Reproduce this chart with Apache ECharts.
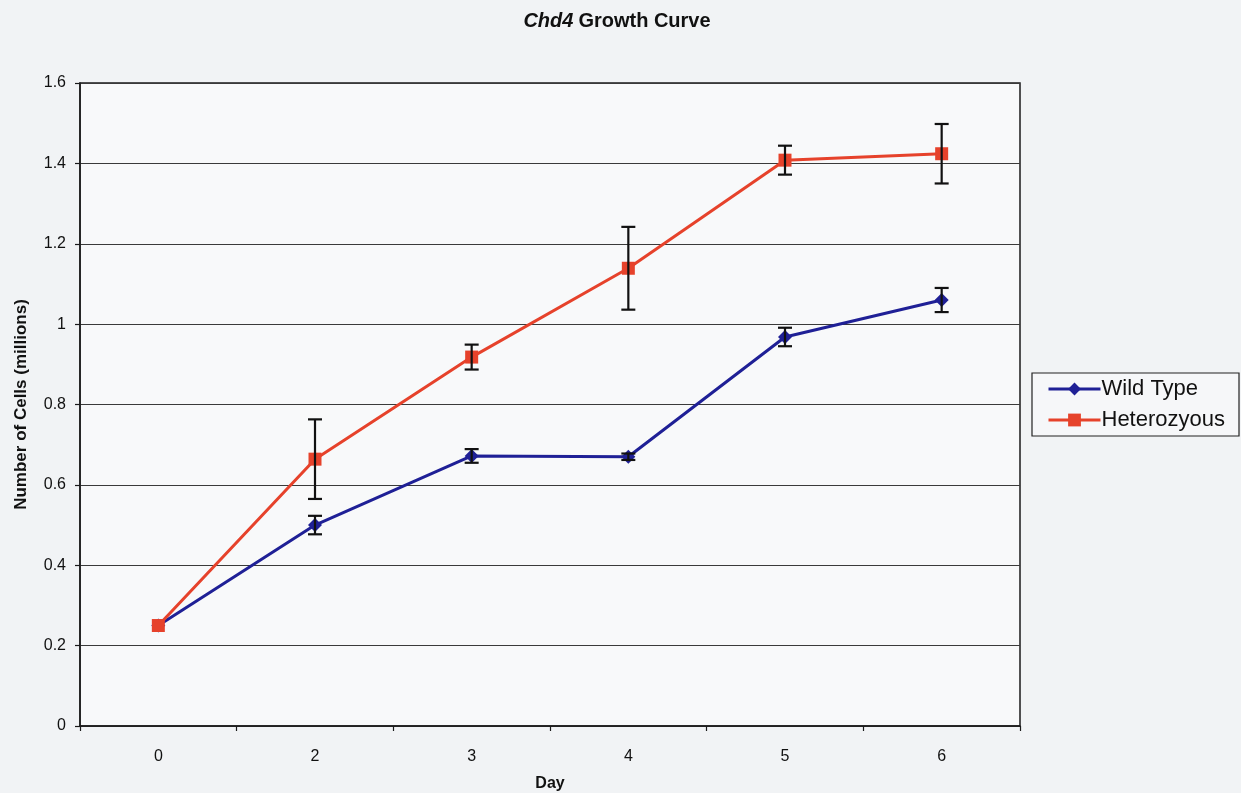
<!DOCTYPE html>
<html>
<head>
<meta charset="utf-8">
<title>Chd4 Growth Curve</title>
<script src="https://cdn.jsdelivr.net/npm/echarts@6/dist/echarts.min.js"></script>
<style>
  html, body { margin: 0; padding: 0; background: #f1f3f5; }
  #chart { width: 1241px; height: 793px; }
</style>
</head>
<body>
<div id="chart"></div>
<script>
// Days sampled
const days = ['0', '2', '3', '4', '5', '6'];

// Mean cell counts (millions) and error half-widths
const wildTypeMean = [0.25, 0.50, 0.672, 0.670, 0.968, 1.06];
const wildTypeErr  = [0.0, 0.023, 0.017, 0.008, 0.023, 0.030];
const hetMean      = [0.25, 0.664, 0.918, 1.139, 1.408, 1.424];
const hetErr       = [0.0, 0.099, 0.031, 0.103, 0.036, 0.074];

const yTicks = [0, 0.2, 0.4, 0.6, 0.8, 1, 1.2, 1.4, 1.6];

const FONT = 'Liberation Sans, Arial, sans-serif';

const chart = echarts.init(document.getElementById('chart'));

// Draws a vertical whisker with caps for each point
function errorBarSeries(means, errs, name) {
  return {
    type: 'custom',
    name: name + ' error',
    z: 5,
    data: means.map((m, i) => [i, m - errs[i], m + errs[i]]),
    renderItem: function (params, api) {
      const lo = api.coord([api.value(0), api.value(1)]);
      const hi = api.coord([api.value(0), api.value(2)]);
      if (Math.abs(hi[1] - lo[1]) < 1) return null;
      const cap = 7;
      const style = { stroke: '#111', lineWidth: 2.2 };
      return {
        type: 'group',
        children: [
          { type: 'line', shape: { x1: lo[0], y1: lo[1], x2: hi[0], y2: hi[1] }, style: style },
          { type: 'line', shape: { x1: lo[0] - cap, y1: lo[1], x2: lo[0] + cap, y2: lo[1] }, style: style },
          { type: 'line', shape: { x1: hi[0] - cap, y1: hi[1], x2: hi[0] + cap, y2: hi[1] }, style: style }
        ]
      };
    },
    silent: true,
    tooltip: { show: false }
  };
}

const option = {
  backgroundColor: '#f1f3f5',
  animation: false,
  title: {
    text: '{i|Chd4} {b|Growth Curve}',
    left: 612,
    textAlign: 'center',
    top: 6,
    textStyle: {
      rich: {
        i: { fontFamily: FONT, fontSize: 20, fontWeight: 'bold', fontStyle: 'italic', color: '#111' },
        b: { fontFamily: FONT, fontSize: 20, fontWeight: 'bold', color: '#111' }
      }
    }
  },
  legend: {
    orient: 'vertical',
    left: 1032,
    top: 373,
    data: ['Wild Type', 'Heterozyous'],
    itemWidth: 52,
    itemHeight: 16,
    itemGap: 9,
    padding: [5, 14, 5, 15],
    borderColor: '#222',
    borderWidth: 1.2,
    backgroundColor: '#f6f7f9',
    lineStyle: { width: 3 },
    textStyle: { fontFamily: FONT, fontSize: 22, color: '#111', padding: [0, 0, 0, -4] }
  },
  grid: {
    left: 80,
    right: 221,
    top: 83,
    bottom: 67,
    outerBoundsMode: 'none',
    show: true,
    backgroundColor: '#f8f9fa',
    borderColor: '#1a1a1a',
    borderWidth: 1.5
  },
  xAxis: {
    type: 'category',
    data: days,
    boundaryGap: true,
    name: 'Day',
    nameLocation: 'middle',
    nameGap: 50,
    nameTextStyle: { fontFamily: FONT, fontSize: 16, fontWeight: 'bold', color: '#111' },
    axisLine: { lineStyle: { color: '#1a1a1a', width: 1.5 } },
    axisTick: { show: true, length: 5, lineStyle: { color: '#1a1a1a', width: 1.2 } },
    axisLabel: { margin: 23, fontFamily: FONT, fontSize: 16, color: '#111' },
    splitLine: { show: false }
  },
  yAxis: {
    type: 'value',
    min: yTicks[0],
    max: yTicks[yTicks.length - 1],
    interval: 0.2,
    name: 'Number of Cells (millions)',
    nameLocation: 'middle',
    nameGap: 50,
    nameTextStyle: { fontFamily: FONT, fontSize: 17, fontWeight: 'bold', color: '#111' },
    axisLine: { show: true, lineStyle: { color: '#1a1a1a', width: 1.5 } },
    axisTick: { show: true, length: 5, lineStyle: { color: '#1a1a1a', width: 1.2 } },
    axisLabel: {
      margin: 14,
      fontFamily: FONT,
      fontSize: 16,
      color: '#111',
      formatter: v => String(parseFloat(v.toFixed(1)))
    },
    splitLine: { show: true, lineStyle: { color: '#3a3a3a', width: 1.2 } }
  },
  series: [
    {
      name: 'Wild Type',
      type: 'line',
      data: wildTypeMean,
      symbol: 'diamond',
      symbolSize: 14,
      z: 3,
      itemStyle: { color: '#1f2096' },
      lineStyle: { color: '#1f2096', width: 3 }
    },
    {
      name: 'Heterozyous',
      type: 'line',
      data: hetMean,
      symbol: 'rect',
      symbolSize: 13,
      z: 4,
      itemStyle: { color: '#e6422b' },
      lineStyle: { color: '#e6422b', width: 3 }
    },
    errorBarSeries(wildTypeMean, wildTypeErr, 'Wild Type'),
    errorBarSeries(hetMean, hetErr, 'Heterozyous')
  ]
};

chart.setOption(option);
</script>
</body>
</html>
